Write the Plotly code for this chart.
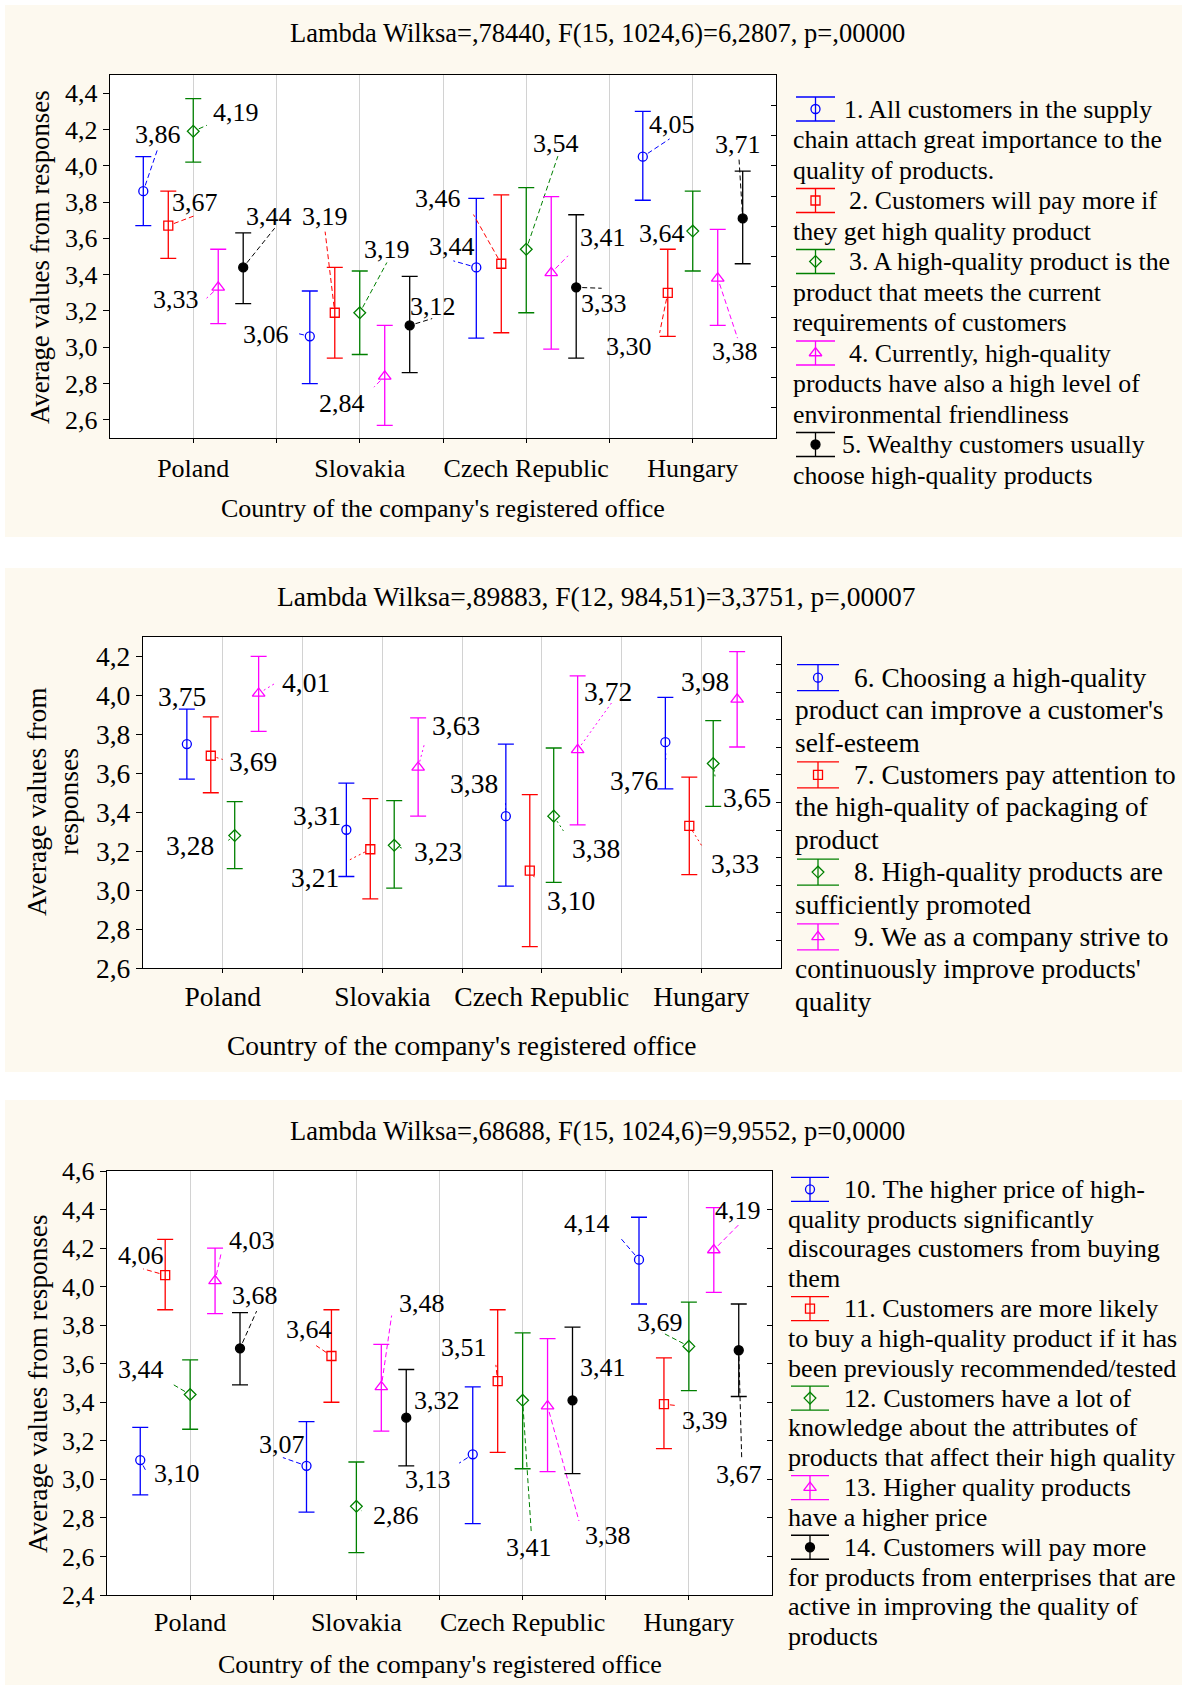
import math
import plotly.graph_objects as go

W, H = 1184, 1685
SERIF = "Liberation Serif"
CREAM = "#fdf9ef"

countries = ["Poland", "Slovakia", "Czech Republic", "Hungary"]
x_title = "Country of the company's registered office"
y_title = "Average values from responses"

# ---------------- Panel 1 data ----------------
p1_title = "Lambda Wilksa=,78440, F(15, 1024,6)=6,2807, p=,00000"
p1_means = [
    [3.86, 3.06, 3.44, 4.05],
    [3.67, 3.19, 3.46, 3.30],
    [4.19, 3.19, 3.54, 3.64],
    [3.33, 2.84, 3.41, 3.38],
    [3.44, 3.12, 3.33, 3.71],
]
p1_lower = [
    [3.67, 2.80, 3.05, 3.81],
    [3.49, 2.94, 3.08, 3.06],
    [4.02, 2.96, 3.19, 3.42],
    [3.13, 2.57, 2.99, 3.12],
    [3.24, 2.86, 2.94, 3.46],
]
p1_upper = [
    [4.05, 3.31, 3.82, 4.30],
    [3.86, 3.44, 3.84, 3.54],
    [4.37, 3.42, 3.88, 3.86],
    [3.54, 3.12, 3.83, 3.65],
    [3.63, 3.39, 3.73, 3.97],
]
p1_items = [
    ["1. All customers in the supply", "chain attach great importance to the", "quality of products."],
    ["2. Customers will pay more if", "they get high quality product"],
    ["3. A high-quality product is the", "product that meets the current", "requirements of customers"],
    ["4. Currently, high-quality", "products have also a high level of", "environmental friendliness"],
    ["5. Wealthy customers usually", "choose high-quality products"],
]

# ---------------- Panel 2 data ----------------
p2_title = "Lambda Wilksa=,89883, F(12, 984,51)=3,3751, p=,00007"
p2_means = [
    [3.75, 3.31, 3.38, 3.76],
    [3.69, 3.21, 3.10, 3.33],
    [3.28, 3.23, 3.38, 3.65],
    [4.01, 3.63, 3.72, 3.98],
]
p2_lower = [
    [3.57, 3.07, 3.02, 3.52],
    [3.50, 2.955, 2.71, 3.08],
    [3.11, 3.01, 3.04, 3.43],
    [3.815, 3.38, 3.335, 3.735],
]
p2_upper = [
    [3.93, 3.55, 3.75, 3.99],
    [3.89, 3.47, 3.49, 3.58],
    [3.455, 3.46, 3.73, 3.87],
    [4.20, 3.885, 4.10, 4.225],
]
p2_items = [
    ["6. Choosing a high-quality", "product can improve a customer's", "self-esteem"],
    ["7. Customers pay attention to", "the high-quality of packaging of", "product"],
    ["8. High-quality products are", "sufficiently promoted"],
    ["9. We as a company strive to", "continuously improve products'", "quality"],
]

# ---------------- Panel 3 data ----------------
p3_title = "Lambda Wilksa=,68688, F(15, 1024,6)=9,9552, p=0,0000"
p3_means = [
    [3.10, 3.07, 3.13, 4.14],
    [4.06, 3.64, 3.51, 3.39],
    [3.44, 2.86, 3.41, 3.69],
    [4.03, 3.48, 3.38, 4.19],
    [3.68, 3.32, 3.41, 3.67],
]
p3_lower = [
    [2.92, 2.83, 2.77, 3.91],
    [3.88, 3.40, 3.14, 3.16],
    [3.26, 2.62, 3.055, 3.46],
    [3.86, 3.25, 3.04, 3.97],
    [3.49, 3.07, 3.03, 3.43],
]
p3_upper = [
    [3.27, 3.30, 3.48, 4.36],
    [4.245, 3.88, 3.88, 3.63],
    [3.62, 3.09, 3.76, 3.92],
    [4.20, 3.70, 3.73, 4.41],
    [3.865, 3.57, 3.79, 3.91],
]
p3_items = [
    ["10. The higher price of high-", "quality products significantly", "discourages customers from buying", "them"],
    ["11. Customers are more likely", "to buy a high-quality product if it has", "been previously recommended/tested"],
    ["12. Customers have a lot of", "knowledge about the attributes of", "products that affect their high quality"],
    ["13. Higher quality products", "have a higher price"],
    ["14. Customers will pay more", "for products from enterprises that are", "active in improving the quality of", "products"],
]

# ---------------- Styles / layout (not data) ----------------
series_colors = ["#0000ff", "#ff0000", "#008000", "#ff00ff", "#000000"]
series_symbols = ["circle-open", "square-open", "diamond-open", "triangle-up-open", "circle"]
series_sizes = [9, 9, 9, 11, 9]

# value-label placement: (label x, label y, leader end x, leader end y) in axis units
p1_lab = [
    [(-0.211, 4.170, -0.211, 4.100), (0.438, 3.069, 0.631, 3.075), (1.556, 3.556, 1.562, 3.476), (2.876, 4.229, 2.861, 4.148)],
    [(0.012, 3.798, 0.012, 3.726), (0.792, 3.722, 0.792, 3.637), (1.471, 3.820, 1.683, 3.731), (2.619, 3.003, 2.801, 3.079)],
    [(0.257, 4.293, 0.082, 4.223), (1.163, 3.537, 1.163, 3.467), (2.181, 4.123, 2.190, 4.053), (2.816, 3.627, None, None)],
    [(-0.106, 3.262, 0.08, 3.27), (0.891, 2.691, 1.085, 2.780), (2.459, 3.605, 2.251, 3.504), (3.254, 2.975, 3.269, 3.050)],
    [(0.453, 3.722, 0.489, 3.656), (1.441, 3.224, 1.435, 3.158), (2.468, 3.240, 2.453, 3.325), (3.269, 4.119, 3.278, 4.034)],
]
p2_lab = [
    [(-0.253, 3.995, None, None), (0.592, 3.381, None, None), (1.573, 3.548, 1.772, 3.463), (2.579, 3.564, 2.778, 3.671)],
    [(0.190, 3.663, 0.0, 3.671), (0.576, 3.066, 0.785, 3.151), (2.184, 2.946, 1.962, 3.057), (3.212, 3.139, 3.006, 3.224)],
    [(-0.206, 3.228, 0.022, 3.248), (1.348, 3.199, 1.139, 3.211), (2.342, 3.214, 2.136, 3.304), (3.285, 3.475, 3.089, 3.569)],
    [(0.522, 4.067, 0.332, 4.064), (1.465, 3.847, 1.266, 3.756), (2.415, 4.021, 2.437, 3.961), (3.022, 4.072, None, None)],
]
p3_lab = [
    [(-0.076, 3.030, -0.261, 3.036), (0.552, 3.181, 0.558, 3.113), (1.430, 2.997, 1.618, 3.084), (2.385, 4.328, 2.588, 4.253)],
    [(-0.297, 4.164, -0.282, 4.092), (0.718, 3.778, 0.758, 3.694), (1.648, 3.685, 1.839, 3.594), (3.097, 3.307, 2.915, 3.384)],
    [(-0.297, 3.569, -0.1, 3.491), (1.239, 2.813, 1.03, 2.838), (2.036, 2.648, 2.052, 2.726), (2.824, 3.815, 2.839, 3.762)],
    [(0.370, 4.237, 0.188, 4.179), (1.394, 3.914, 1.212, 3.850), (2.515, 2.710, 2.339, 2.784), (3.294, 4.396, 3.303, 4.324)],
    [(0.391, 3.952, 0.4, 3.873), (1.485, 3.408, None, None), (2.482, 3.582, None, None), (3.303, 3.026, 3.318, 3.103)],
]

panels = [
    dict(title=p1_title, means=p1_means, lower=p1_lower, upper=p1_upper, items=p1_items, labs=p1_lab,
         sidx=[0, 1, 2, 3, 4], offs=[-0.30, -0.15, 0.0, 0.15, 0.30],
         L=110, R=776, T=75, B=438, yr=[2.5, 4.5], cream=(5, 537), fs=26, tfs=26.5, yfs=26.8, xstand=3,
         rparts=12,
         title_xy=(597, 33), xt_y=509, ytitles=[(40, y_title)], yt_y=257,
         icon_x=(796, 835), text_x=791, first_x=[842, 847, 847, 847, 840],
         ly0=109, ldy=30.5, lfs=25.8, ih=12, dash="5px,3px"),
    dict(title=p2_title, means=p2_means, lower=p2_lower, upper=p2_upper, items=p2_items, labs=p2_lab,
         sidx=[0, 1, 2, 3], offs=[-0.225, -0.075, 0.075, 0.225],
         L=143, R=781, T=637, B=968, yr=[2.6, 4.3], cream=(568, 1072), fs=27.5, tfs=27.5, yfs=27.5, xstand=0,
         rparts=12,
         title_xy=(596, 597), xt_y=1045, ytitles=[(36, "Average values from"), (68, "responses")], yt_y=802,
         icon_x=(797, 839), text_x=793, first_x=[852, 852, 852, 852],
         ly0=677.7, ldy=32.4, lfs=27.4, ih=13, dash="2px,3px"),
    dict(title=p3_title, means=p3_means, lower=p3_lower, upper=p3_upper, items=p3_items, labs=p3_lab,
         sidx=[0, 1, 2, 3, 4], offs=[-0.30, -0.15, 0.0, 0.15, 0.30],
         L=107, R=772, T=1171, B=1595, yr=[2.4, 4.6], cream=(1100, 1690), fs=26, tfs=26.5, yfs=27.2, xstand=0,
         rparts=11,
         title_xy=(597, 1131), xt_y=1664, ytitles=[(38, y_title)], yt_y=1384,
         icon_x=(791, 829), text_x=786, first_x=[842, 842, 842, 842, 842],
         ly0=1189.3, ldy=29.83, lfs=26.1, ih=12, dash="5px,3px"),
]

fig = go.Figure()
shapes = []
annotations = []
layout_axes = {}


def fmt(v):
    return f"{v:.2f}".replace(".", ",")


for pi, P in enumerate(panels):
    n = pi + 1
    xs = "x" if n == 1 else f"x{n}"
    ys = "y" if n == 1 else f"y{n}"
    xk = "xaxis" if n == 1 else f"xaxis{n}"
    yk = "yaxis" if n == 1 else f"yaxis{n}"
    L, R, T, B = P["L"], P["R"], P["T"], P["B"]
    y0, y1 = P["yr"]
    fs = P["fs"]

    # backgrounds
    shapes.append(dict(type="rect", xref="paper", yref="paper", layer="below",
                       x0=5 / W, x1=1182 / W, y0=1 - P["cream"][1] / H, y1=1 - P["cream"][0] / H,
                       fillcolor=CREAM, line=dict(width=0)))
    shapes.append(dict(type="rect", xref="paper", yref="paper", layer="below",
                       x0=L / W, x1=R / W, y0=1 - B / H, y1=1 - T / H,
                       fillcolor="white", line=dict(width=0)))

    layout_axes[xk] = dict(
        domain=[L / W, R / W], range=[-0.5, 3.5], anchor=ys, automargin=False,
        tickmode="array", tickvals=[0, 0.5, 1, 1.5, 2, 2.5, 3],
        ticktext=[countries[0], "", countries[1], "", countries[2], "", countries[3]],
        showgrid=True, gridcolor="#d2d2d2", gridwidth=1, zeroline=False,
        showline=True, mirror=True, linecolor="black", linewidth=1.4,
        ticks="outside", ticklen=4, tickcolor="black", tickwidth=1,
        ticklabelstandoff=P["xstand"],
        tickfont=dict(family=SERIF, size=fs, color="black"), fixedrange=True)
    layout_axes[yk] = dict(
        domain=[1 - B / H, 1 - T / H], range=[y0, y1], anchor=xs, automargin=False,
        dtick=0.2, tick0=0, tickformat=".1f", showgrid=False, zeroline=False,
        showline=True, mirror=True, linecolor="black", linewidth=1.4,
        ticks="outside", ticklen=6, tickcolor="black", tickwidth=1,
        tickfont=dict(family=SERIF, size=fs, color="black"), fixedrange=True)
    # right-hand inner tick marks (frame divisions)
    rk = f"yaxis{n + 4}"
    rs = f"y{n + 4}"
    layout_axes[rk] = dict(
        overlaying=ys, anchor=xs, side="right", range=[0, P["rparts"]], dtick=1, tick0=0,
        ticks="inside", ticklen=5, tickwidth=1, tickcolor="black", showticklabels=False,
        showgrid=False, zeroline=False, showline=False, automargin=False, fixedrange=True)
    fig.add_trace(go.Scatter(x=[None], y=[None], xaxis=xs, yaxis=rs, mode="markers",
                             showlegend=False, hoverinfo="skip"))

    sx = (R - L) / 4.0
    sy = (B - T) / (y1 - y0)

    for k, si in enumerate(P["sidx"]):
        col = series_colors[si]
        xv = [c + P["offs"][k] for c in range(len(countries))]
        m = P["means"][k]
        lo = P["lower"][k]
        up = P["upper"][k]
        fig.add_trace(go.Scatter(
            x=xv, y=m, xaxis=xs, yaxis=ys, mode="markers", showlegend=False,
            marker=dict(symbol=series_symbols[si], size=series_sizes[si], color=col,
                        line=dict(color=col, width=1.3)),
            error_y=dict(type="data", symmetric=False,
                         array=[u - v for u, v in zip(up, m)],
                         arrayminus=[v - l for v, l in zip(m, lo)],
                         color=col, thickness=1.3, width=8)))
        # value labels + leaders
        for c in range(len(countries)):
            lx, ly, ex, ey = P["labs"][k][c]
            annotations.append(dict(xref=xs, yref=ys, x=lx, y=ly, text=fmt(m[c]), showarrow=False,
                                    xanchor="center", yanchor="middle",
                                    font=dict(family=SERIF, size=fs, color="black")))
            if ex is not None:
                mx, my = xv[c], m[c]
                dxp, dyp = (ex - mx) * sx, (ey - my) * sy
                d = math.hypot(dxp, dyp)
                gap = 6.0
                if d > gap:
                    f = gap / d
                    fig.add_trace(go.Scatter(
                        x=[mx + (ex - mx) * f, ex], y=[my + (ey - my) * f, ey],
                        xaxis=xs, yaxis=ys, mode="lines", showlegend=False, hoverinfo="skip",
                        line=dict(color=col, width=1, dash=P["dash"])))

    # titles
    annotations.append(dict(xref="paper", yref="paper", x=P["title_xy"][0] / W, y=1 - P["title_xy"][1] / H,
                            text=P["title"], showarrow=False, xanchor="center", yanchor="middle",
                            font=dict(family=SERIF, size=P["tfs"], color="black")))
    annotations.append(dict(xref="paper", yref="paper", x=(L + R) / 2 / W, y=1 - P["xt_y"] / H,
                            text=x_title, showarrow=False, xanchor="center", yanchor="middle",
                            font=dict(family=SERIF, size=fs, color="black")))
    for (tx, tt) in P["ytitles"]:
        annotations.append(dict(xref="paper", yref="paper", x=tx / W, y=1 - P["yt_y"] / H,
                                text=tt, showarrow=False, textangle=-90, xanchor="center", yanchor="middle",
                                font=dict(family=SERIF, size=P["yfs"], color="black")))

    # legend (drawn on pixel overlay axis x4/y4)
    line_no = 0
    ix0, ix1 = P["icon_x"]
    ixc = (ix0 + ix1) / 2
    for k, si in enumerate(P["sidx"]):
        col = series_colors[si]
        for j, txt in enumerate(P["items"][k]):
            yy = P["ly0"] + line_no * P["ldy"]
            if j == 0:
                h = P["ih"]
                fig.add_trace(go.Scatter(
                    x=[ix0, ix1, None, ix0, ix1, None, ixc, ixc],
                    y=[yy - h, yy - h, None, yy + h, yy + h, None, yy - h, yy + h],
                    xaxis="x4", yaxis="y4", mode="lines", showlegend=False, hoverinfo="skip",
                    line=dict(color=col, width=1.3)))
                fig.add_trace(go.Scatter(
                    x=[ixc], y=[yy], xaxis="x4", yaxis="y4", mode="markers", showlegend=False,
                    hoverinfo="skip",
                    marker=dict(symbol=series_symbols[si], size=series_sizes[si], color=col,
                                line=dict(color=col, width=1.3))))
                tx = P["first_x"][k]
            else:
                tx = P["text_x"]
            annotations.append(dict(xref="x4", yref="y4", x=tx, y=yy, text=txt, showarrow=False,
                                    xanchor="left", yanchor="middle",
                                    font=dict(family=SERIF, size=P["lfs"], color="black")))
            line_no += 1

layout_axes["xaxis4"] = dict(domain=[0, 1], range=[0, W], anchor="y4", visible=False,
                             fixedrange=True, automargin=False)
layout_axes["yaxis4"] = dict(domain=[0, 1], range=[H, 0], anchor="x4", visible=False,
                             fixedrange=True, automargin=False)

fig.update_layout(
    template="none",
    width=W, height=H, margin=dict(l=0, r=0, t=0, b=0, pad=0, autoexpand=False),
    paper_bgcolor="white", plot_bgcolor="rgba(0,0,0,0)",
    separators=", ", showlegend=False,
    font=dict(family=SERIF, color="black"),
    shapes=shapes, annotations=annotations,
    **layout_axes)

fig.write_html("out.html", config={"displayModeBar": False},
               post_script="document.body.style.margin='0';document.body.style.overflow='hidden';")
